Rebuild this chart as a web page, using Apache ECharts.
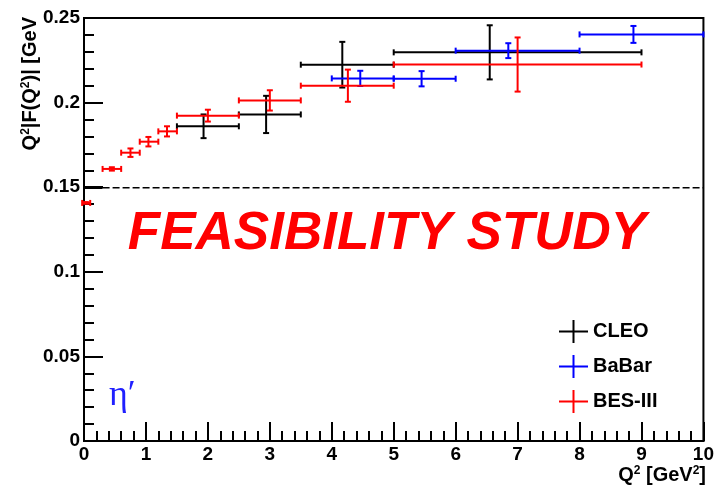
<!DOCTYPE html>
<html>
<head>
<meta charset="utf-8">
<script src="https://cdn.jsdelivr.net/npm/echarts@6/dist/echarts.min.js"></script>
<style>
  html, body { margin: 0; padding: 0; background: #fff; }
  #chart { width: 717px; height: 486px; }
</style>
</head>
<body>
<div id="chart"></div>
<script>
// Each point: [Q2 centre, Q2 low edge, Q2 high edge, Q2|F(Q2)|, error]
const cleo = [
  [1.93, 1.5, 2.5, 0.186, 0.007],
  [2.94, 2.5, 3.5, 0.193, 0.011],
  [4.17, 3.5, 5.0, 0.2224, 0.0135],
  [6.55, 5.0, 9.0, 0.2297, 0.016]
];
const babar = [
  [4.46, 4.0, 5.0, 0.2143, 0.0045],
  [5.45, 5.0, 6.0, 0.2141, 0.0045],
  [6.85, 6.0, 8.0, 0.2307, 0.0044],
  [8.87, 8.0, 10.0, 0.2403, 0.005]
];
const bes3 = [
  [0.03, -0.03, 0.1, 0.1407, 0.0005],
  [0.45, 0.3, 0.6, 0.1608, 0.001],
  [0.75, 0.6, 0.9, 0.1704, 0.0025],
  [1.04, 0.9, 1.2, 0.1769, 0.0028],
  [1.34, 1.2, 1.5, 0.183, 0.003],
  [2.0, 1.5, 2.5, 0.1923, 0.0035],
  [3.0, 2.5, 3.5, 0.2013, 0.006],
  [4.26, 3.5, 5.0, 0.21, 0.0095],
  [7.0, 5.0, 9.0, 0.2225, 0.016]
];
// Real-photon limit drawn as a horizontal reference
const limitValue = 0.1497;
const limitSolid = [[0, limitValue], [0.3, limitValue]];
const limitDashed = [[0.3, limitValue], [10, limitValue]];

const xRange = [0, 10];
const yRange = [0, 0.25];
const xStep = 1;
const yStep = 0.05;

const FONT = '"Liberation Sans", Arial, Helvetica, sans-serif';

function errorBars(color) {
  return function (params, api) {
    const xc = api.value(0), xlo = api.value(1), xhi = api.value(2);
    const y = api.value(3), e = api.value(4);
    const c = api.coord([xc, y]);
    const l = api.coord([xlo, y]);
    const r = api.coord([xhi, y]);
    const top = api.coord([xc, y + e]);
    const bot = api.coord([xc, y - e]);
    const cap = 3;
    const style = { stroke: color, lineWidth: 2, fill: null };
    const line = (x1, y1, x2, y2) => ({ type: 'line', shape: { x1, y1, x2, y2 }, style });
    return {
      type: 'group',
      children: [
        line(l[0], l[1], r[0], r[1]),
        line(l[0], l[1] - cap, l[0], l[1] + cap),
        line(r[0], r[1] - cap, r[0], r[1] + cap),
        line(c[0], top[1], c[0], bot[1]),
        line(c[0] - cap, top[1], c[0] + cap, top[1]),
        line(c[0] - cap, bot[1], c[0] + cap, bot[1])
      ]
    };
  };
}

function errSeries(name, data, color) {
  return {
    name,
    type: 'custom',
    data,
    itemStyle: { color },
    encode: { x: [0, 1, 2], y: [3] },
    renderItem: errorBars(color),
    z: 5
  };
}

const crossIcon = 'path://M0,10.5L29,10.5L29,12.5L0,12.5Z M13.5,0L15.5,0L15.5,23L13.5,23Z';

const axisCommon = {
  type: 'value',
  axisLine: { show: true, lineStyle: { color: '#000', width: 2 } },
  axisTick: { show: true, inside: true, length: 19, lineStyle: { color: '#000', width: 2 } },
  minorTick: { show: true, splitNumber: 5, length: 10, lineStyle: { color: '#000', width: 2 } },
  splitLine: { show: false },
  axisLabel: { color: '#000', fontFamily: FONT, fontWeight: 'bold', fontSize: 19 }
};

const supStyle = { fontSize: 12, fontWeight: 'bold', fontFamily: FONT, verticalAlign: 'top', fill: '#000' };

const chart = echarts.init(document.getElementById('chart'));
chart.setOption({
  animation: false,
  backgroundColor: '#fff',
  grid: { left: 84, right: 12, top: 18, bottom: 45, show: true, borderColor: '#000', borderWidth: 2 },
  xAxis: Object.assign({}, axisCommon, {
    min: xRange[0], max: xRange[1], interval: xStep,
    axisLabel: Object.assign({}, axisCommon.axisLabel, { margin: 4, showMinLabel: true, showMaxLabel: true })
  }),
  yAxis: Object.assign({}, axisCommon, {
    min: yRange[0], max: yRange[1], interval: yStep,
    axisLabel: Object.assign({}, axisCommon.axisLabel, { margin: 4, showMinLabel: true, showMaxLabel: true })
  }),
  legend: {
    data: ['CLEO', 'BaBar', 'BES-III'],
    orient: 'vertical',
    left: 554,
    top: 315,
    itemWidth: 29,
    itemHeight: 23,
    itemGap: 12,
    icon: crossIcon,
    selectedMode: false,
    textStyle: { color: '#000', fontFamily: FONT, fontWeight: 'bold', fontSize: 20 }
  },
  graphic: [
    {
      type: 'text', x: 30, y: 17, rotation: Math.PI / 2,
      style: {
        text: 'Q{s|2}|F(Q{s|2})| [GeV',
        align: 'right', verticalAlign: 'middle',
        fill: '#000', font: 'bold 20px ' + FONT,
        rich: { s: supStyle }
      }
    },
    {
      type: 'text', x: 706, y: 475,
      style: {
        text: 'Q{s|2} [GeV{s|2}]',
        align: 'right', verticalAlign: 'middle',
        fill: '#000', font: 'bold 20px ' + FONT,
        rich: { s: supStyle }
      }
    },
    {
      type: 'text', x: 387, y: 234,
      style: {
        text: 'FEASIBILITY STUDY',
        align: 'center', verticalAlign: 'middle',
        fill: '#ff0000', font: 'italic bold 53px ' + FONT
      }
    },
    {
      type: 'text', x: 109, y: 396,
      style: {
        text: 'η′',
        align: 'left', verticalAlign: 'middle',
        fill: '#2020ff', font: '36px "Liberation Serif", "Times New Roman", serif'
      }
    }
  ],
  series: [
    {
      type: 'line', data: limitSolid, symbol: 'none', silent: true,
      lineStyle: { color: '#000', width: 2.5 }, z: 3
    },
    {
      type: 'line', data: limitDashed, symbol: 'none', silent: true,
      lineStyle: { color: '#000', width: 1.5, type: [7, 3] }, z: 3
    },
    errSeries('CLEO', cleo, '#000000'),
    errSeries('BaBar', babar, '#0000ff'),
    errSeries('BES-III', bes3, '#ff0000')
  ]
});
</script>
</body>
</html>
